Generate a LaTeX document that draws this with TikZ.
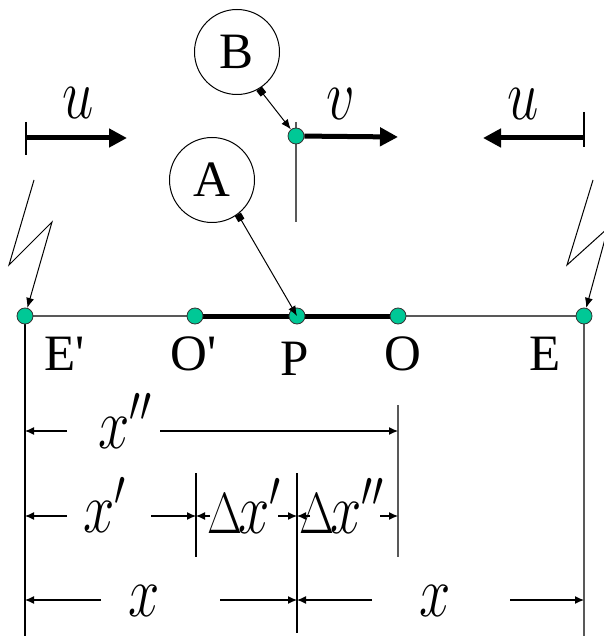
\RequirePackage{fix-cm}
\documentclass[tikz,border=0pt]{standalone}
\usepackage{fontspec}
\setmainfont{Liberation Serif}
\usetikzlibrary{arrows.meta}
\definecolor{dotgreen}{HTML}{00C896}
\newcommand{\thinvar}[1]{\scalebox{0.78}[1]{#1}}

\begin{document}
\begin{tikzpicture}[
			x=0.5pt, y=-0.5pt,
			dot/.style={
					circle,
					draw=black!80,
					line width=0.4pt,
					fill=dotgreen,
					minimum size=8pt,
					inner sep=0pt
				},
			bubble/.style={
					circle,
					draw,
					line width=0.5pt,
					minimum size=42.5pt,
					inner sep=0pt,
					font=\fontsize{25.5}{30}\selectfont
				},
			ptlabel/.style={anchor=base, inner sep=0pt, font=\fontsize{25.5}{30}\selectfont},
			varlabel/.style={anchor=base west, inner sep=0pt, font=\fontsize{36}{40}\selectfont},
			thinline/.style={line width=0.6pt, draw=gray!70!black},
			dim/.style={line width=0.6pt, -{Latex[length=4.5pt,width=4pt]}},
			motion/.style={line width=2.5pt, -{Triangle[length=9pt,width=9pt]}},
			pointer/.style={line width=0.5pt, -{Latex[length=5pt,width=4pt]}}
		]

		\useasboundingbox (0,0) rectangle (603,640);

		% points on the rod
		\coordinate (ep) at (25,316);
		\coordinate (op) at (195,316);
		\coordinate (p) at (297,316);
		\coordinate (o) at (398,316);
		\coordinate (e) at (584,316);
		\coordinate (pv) at (296,136);
		\coordinate (bot) at (0,636);

		\draw[thinline] (ep) -- (e);
		\draw[line width=2.5pt] (op) -- (o);
		\draw[thinline] (pv) ++(0,-14) -- ++(0,100);

		% vertical guides
		\draw[thinline, draw=black] (ep) -- (ep |- bot);
		\draw[thinline] (e) -- (e |- bot);
		\draw[thinline] (398,405) -- (398,557);
		\draw[thinline, draw=black] (196,473) -- (196,557);
		\draw[thinline, draw=black] (297,473) -- (297,633);

		\node[dot] (Ep) at (ep) {};
		\node[dot] (Op) at (op) {};
		\node[dot] (P) at (p) {};
		\node[dot] (O) at (o) {};
		\node[dot] (E) at (e) {};
		\node[dot] (Pv) at (pv) {};

		\node[ptlabel] (lEp) at (65,370) {E\textquotesingle};
		\node[ptlabel] (lOp) at (194,370) {O\textquotesingle};
		\node[ptlabel] (lP) at (295,375) {P};
		\node[ptlabel] (lO) at (403,370) {O};
		\node[ptlabel] (lE) at (545,370) {E};

		% velocities
		\coordinate (uls) at (26,138);
		\coordinate (ule) at (127,138);
		\coordinate (urs) at (584,138);
		\coordinate (ure) at (483,138);
		\coordinate (ve) at (398,137);
		\draw[line width=0.6pt] (uls) ++(0,-16) -- ++(0,33);
		\draw[line width=0.6pt] (urs) ++(0,-26) -- ++(0,35);
		\draw[motion] (uls) -- (ule);
		\draw[motion] (urs) -- (ure);
		\draw[motion] (Pv) -- (ve);
		\node[varlabel] (lu1) at (62,119) {\thinvar{$u$}};
		\node[varlabel] (lv) at (326,120) {\thinvar{$v$}};
		\node[varlabel] (lu2) at (507,120) {\thinvar{$u$}};

		% signals
		\coordinate (zl) at (34,180);
		\coordinate (zr) at (593,180);
		\draw[pointer] (zl) -- ++(-25,85) -- ++(43,-43) -- (Ep);
		\draw[pointer] (zr) -- ++(-26,85) -- ++(41,-37) -- (E);

		% observers
		\node[bubble] (B) at (237,52) {B};
		\node[bubble] (A) at (212,180) {A};
		\draw[pointer, {Square[length=3.5pt,width=3.5pt]}-{Latex[length=5pt,width=4pt]}] (B.-59) -- (Pv);
		\draw[pointer, {Square[length=3.5pt,width=3.5pt]}-{Latex[length=5pt,width=4pt]}] (A.-53) -- (P.center);

		% distances
		\coordinate (a1) at (67,431);
		\coordinate (b1) at (160,431);
		\draw[dim] (a1) -- (ep |- a1);
		\draw[dim] (b1) -- (o |- b1);
		\node[varlabel] (xpp) at (98,448) {\thinvar{$x''$}};

		\coordinate (a2) at (67,516);
		\coordinate (b2) at (151,516);
		\coordinate (c2) at (210,516);
		\coordinate (d2) at (278,516);
		\coordinate (e2) at (310,516);
		\coordinate (f2) at (380,516);
		\draw[dim] (a2) -- (ep |- a2);
		\draw[dim] (b2) -- (196,516);
		\draw[dim] (c2) -- (196,516);
		\draw[dim] (d2) -- (p |- d2);
		\draw[dim] (e2) -- (p |- e2);
		\draw[dim] (f2) -- (o |- f2);
		\node[varlabel] (xp) at (83,532) {\thinvar{$x'$}};
		\node[varlabel] (dxp) at (207,533)
		{\thinvar{\fontsize{29}{32}\selectfont$\Delta$}\kern-2pt\thinvar{$x'$}};
		\node[varlabel] (dxpp) at (299,533)
		{\thinvar{\fontsize{29}{32}\selectfont$\Delta$}\kern-2pt\thinvar{$x''$}};

		\coordinate (a3) at (101,600);
		\coordinate (b3) at (220,600);
		\coordinate (c3) at (372,600);
		\coordinate (d3) at (510,600);
		\draw[dim] (a3) -- (ep |- a3);
		\draw[dim] (b3) -- (p |- b3);
		\draw[dim] (c3) -- (p |- c3);
		\draw[dim] (d3) -- (e |- d3);
		\node[varlabel] (xl) at (128,616) {\thinvar{$x$}};
		\node[varlabel] (xr) at (419,616) {\thinvar{$x$}};

	\end{tikzpicture}
\end{document}
